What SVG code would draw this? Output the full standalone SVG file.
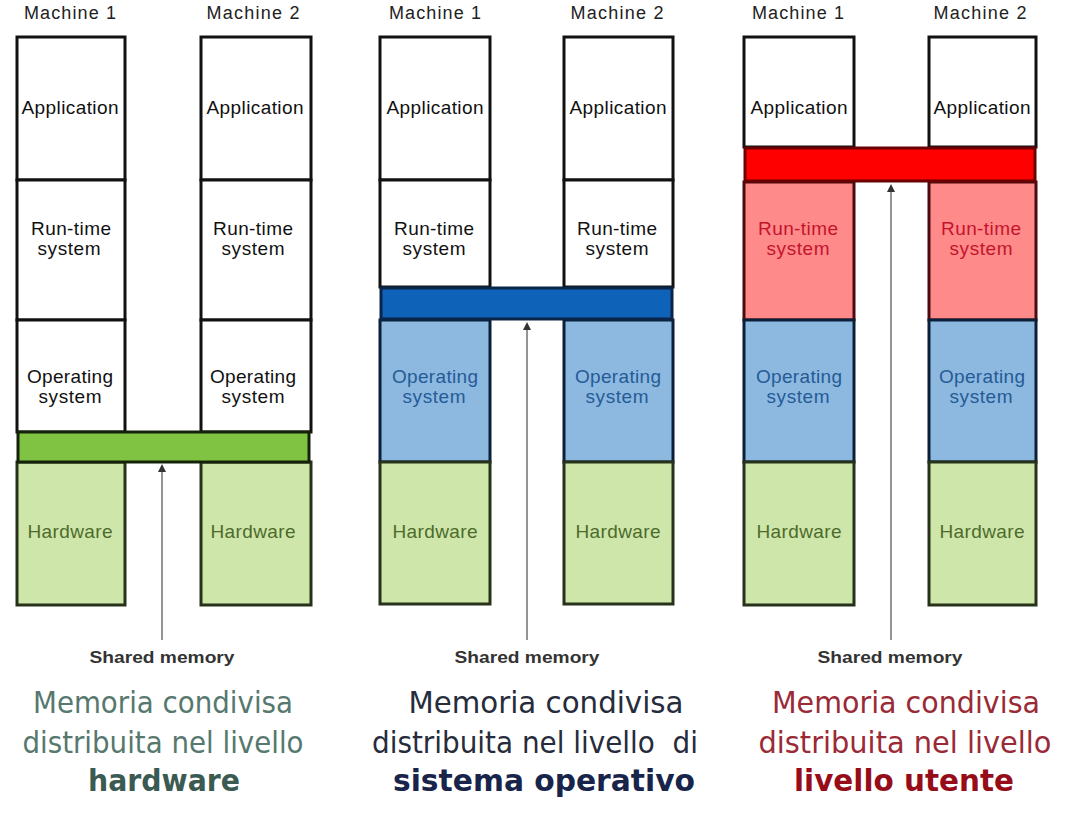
<svg xmlns="http://www.w3.org/2000/svg" width="1087" height="840" viewBox="0 0 1087 840">
<style>
.bg{fill:#ffffff}
.box{stroke:#111;stroke-width:3}
.white{fill:#ffffff}
.hw{fill:#cfe6aa;stroke:#26321a}
.os{fill:#8db8e0;stroke:#0b2038}
.rt{fill:#ff8a8a;stroke:#4a0a10}
.lbl{font-family:"Liberation Sans",Arial,sans-serif;font-size:19px;text-anchor:middle;fill:#111}
.mach{font-family:"Liberation Sans",Arial,sans-serif;font-size:18px;text-anchor:middle;fill:#222}
.hwt{fill:#4d6b2a}
.ost{fill:#255c96}
.rtt{fill:#c4142c}
.sm{font-family:"Liberation Sans",Arial,sans-serif;font-size:17px;font-weight:bold;text-anchor:middle;fill:#333}
.cap{font-family:"DejaVu Sans","Liberation Sans",sans-serif;font-size:31px;text-anchor:middle}
.capb{font-family:"DejaVu Sans","Liberation Sans",sans-serif;font-size:31px;font-weight:bold;text-anchor:middle}
.conn{stroke:#7a7a7a;stroke-width:1.6;fill:none;marker-end:url(#ah)}
</style>
<defs>
<marker id="ah" markerWidth="8" markerHeight="8" refX="4" refY="4" orient="auto" markerUnits="userSpaceOnUse">
<path d="M0,0 L8,4 L0,8 z" fill="#333"/>
</marker>
</defs>
<rect class="bg" x="0" y="0" width="1087" height="840"/>

<!-- Panel 1: hardware -->
<g id="p1-m1">
<text class="mach" x="70" y="19" textLength="92">Machine 1</text>
<rect class="box white" x="17" y="37" width="108" height="143"/>
<rect class="box white" x="17" y="180" width="108" height="140"/>
<rect class="box white" x="17" y="320" width="108" height="112"/>
<rect class="box hw" x="17" y="462" width="108" height="143"/>
<text class="lbl" x="70" y="114" textLength="97">Application</text>
<text class="lbl" x="71" y="235" textLength="80">Run-time</text>
<text class="lbl" x="69" y="255" textLength="63">system</text>
<text class="lbl" x="70" y="383" textLength="86">Operating</text>
<text class="lbl" x="70" y="403" textLength="63">system</text>
<text class="lbl hwt" x="70" y="538" textLength="85">Hardware</text>
</g>
<g id="p1-m2">
<text class="mach" x="253" y="19" textLength="93">Machine 2</text>
<rect class="box white" x="201" y="37" width="110" height="143"/>
<rect class="box white" x="201" y="180" width="110" height="140"/>
<rect class="box white" x="201" y="320" width="110" height="112"/>
<rect class="box hw" x="201" y="462" width="110" height="143"/>
<text class="lbl" x="255" y="114" textLength="97">Application</text>
<text class="lbl" x="253" y="235" textLength="80">Run-time</text>
<text class="lbl" x="253" y="255" textLength="63">system</text>
<text class="lbl" x="253" y="383" textLength="86">Operating</text>
<text class="lbl" x="253" y="403" textLength="63">system</text>
<text class="lbl hwt" x="253" y="538" textLength="85">Hardware</text>
</g>
<g id="p1-shared">
<rect x="18" y="432" width="291" height="30" fill="#80c342" stroke="#14220a" stroke-width="3"/>
</g>

<!-- Panel 2: OS -->
<g id="p2-m1">
<text class="mach" x="435" y="19" textLength="92">Machine 1</text>
<rect class="box white" x="380" y="37" width="110" height="143"/>
<rect class="box white" x="380" y="180" width="110" height="107"/>
<rect class="box os" x="380" y="320" width="110" height="142"/>
<rect class="box hw" x="380" y="462" width="110" height="142"/>
<text class="lbl" x="435" y="114" textLength="97">Application</text>
<text class="lbl" x="434" y="235" textLength="80">Run-time</text>
<text class="lbl" x="434" y="255" textLength="63">system</text>
<text class="lbl ost" x="435" y="383" textLength="86">Operating</text>
<text class="lbl ost" x="434" y="403" textLength="63">system</text>
<text class="lbl hwt" x="435" y="538" textLength="85">Hardware</text>
</g>
<g id="p2-m2">
<text class="mach" x="617" y="19" textLength="93">Machine 2</text>
<rect class="box white" x="564" y="37" width="109" height="143"/>
<rect class="box white" x="564" y="180" width="109" height="107"/>
<rect class="box os" x="564" y="320" width="109" height="142"/>
<rect class="box hw" x="564" y="462" width="109" height="142"/>
<text class="lbl" x="618" y="114" textLength="97">Application</text>
<text class="lbl" x="617" y="235" textLength="80">Run-time</text>
<text class="lbl" x="617" y="255" textLength="63">system</text>
<text class="lbl ost" x="618" y="383" textLength="86">Operating</text>
<text class="lbl ost" x="617" y="403" textLength="63">system</text>
<text class="lbl hwt" x="618" y="538" textLength="85">Hardware</text>
</g>
<g id="p2-shared">
<rect x="381" y="288" width="291" height="31" fill="#0e63b8" stroke="#0a2548" stroke-width="3"/>
</g>

<!-- Panel 3: user level -->
<g id="p3-m1">
<text class="mach" x="798" y="19" textLength="92">Machine 1</text>
<rect class="box white" x="744" y="37" width="110" height="110"/>
<rect class="box rt" x="744" y="182" width="110" height="138"/>
<rect class="box os" x="744" y="320" width="110" height="142"/>
<rect class="box hw" x="744" y="462" width="110" height="143"/>
<text class="lbl" x="799" y="114" textLength="97">Application</text>
<text class="lbl rtt" x="798" y="235" textLength="80">Run-time</text>
<text class="lbl rtt" x="798" y="255" textLength="63">system</text>
<text class="lbl ost" x="799" y="383" textLength="86">Operating</text>
<text class="lbl ost" x="798" y="403" textLength="63">system</text>
<text class="lbl hwt" x="799" y="538" textLength="85">Hardware</text>
</g>
<g id="p3-m2">
<text class="mach" x="980" y="19" textLength="93">Machine 2</text>
<rect class="box white" x="929" y="37" width="107" height="110"/>
<rect class="box rt" x="929" y="182" width="107" height="138"/>
<rect class="box os" x="929" y="320" width="107" height="142"/>
<rect class="box hw" x="929" y="462" width="107" height="143"/>
<text class="lbl" x="982" y="114" textLength="97">Application</text>
<text class="lbl rtt" x="981" y="235" textLength="80">Run-time</text>
<text class="lbl rtt" x="981" y="255" textLength="63">system</text>
<text class="lbl ost" x="982" y="383" textLength="86">Operating</text>
<text class="lbl ost" x="981" y="403" textLength="63">system</text>
<text class="lbl hwt" x="982" y="538" textLength="85">Hardware</text>
</g>
<g id="p3-shared">
<rect x="745" y="148" width="290" height="33" fill="#ff0000" stroke="#6a0000" stroke-width="3"/>
</g>

<!-- Connectors -->
<g id="connectors">
<line class="conn" x1="162" y1="640" x2="162" y2="468"/>
<line class="conn" x1="527" y1="640" x2="527" y2="326"/>
<line class="conn" x1="891" y1="640" x2="891" y2="188"/>
</g>

<g id="shared-labels">
<text class="sm" x="162" y="663" textLength="145" lengthAdjust="spacingAndGlyphs">Shared memory</text>
<text class="sm" x="527" y="663" textLength="145" lengthAdjust="spacingAndGlyphs">Shared memory</text>
<text class="sm" x="890" y="663" textLength="145" lengthAdjust="spacingAndGlyphs">Shared memory</text>
</g>

<g id="caption1">
<text class="cap" x="163" y="713" fill="#56786e" textLength="260" lengthAdjust="spacingAndGlyphs">Memoria condivisa</text>
<text class="cap" x="163" y="753" fill="#56786e" textLength="281" lengthAdjust="spacingAndGlyphs">distribuita nel livello</text>
<text class="capb" x="164" y="791" fill="#3a5a52" textLength="152" lengthAdjust="spacingAndGlyphs">hardware</text>
</g>
<g id="caption2">
<text class="cap" x="546" y="713" fill="#262c3c" textLength="275" lengthAdjust="spacingAndGlyphs">Memoria condivisa</text>
<text class="cap" x="535" y="753" fill="#262c3c" textLength="326" lengthAdjust="spacingAndGlyphs" xml:space="preserve">distribuita nel livello  di</text>
<text class="capb" x="544" y="791" fill="#18244a" textLength="302" lengthAdjust="spacingAndGlyphs">sistema operativo</text>
</g>
<g id="caption3">
<text class="cap" x="906" y="713" fill="#9a2a36" textLength="268" lengthAdjust="spacingAndGlyphs">Memoria condivisa</text>
<text class="cap" x="905" y="753" fill="#9a2a36" textLength="293" lengthAdjust="spacingAndGlyphs">distribuita nel livello</text>
<text class="capb" x="904" y="791" fill="#960c18" textLength="220" lengthAdjust="spacingAndGlyphs">livello utente</text>
</g>
</svg>
